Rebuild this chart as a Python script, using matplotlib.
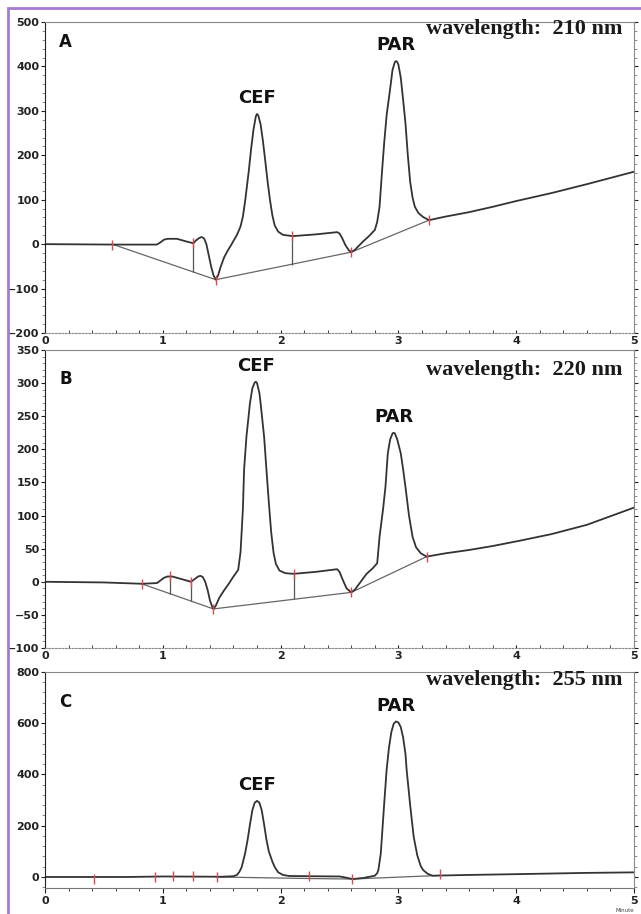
import matplotlib.pyplot as plt
from matplotlib.ticker import MultipleLocator, AutoMinorLocator
from matplotlib.patches import Rectangle

# ---- data (time in min, signal in mAU) ----
peak_names = ['CEF', 'PAR']

# A : 210 nm
A_time = [0, 0.6, 0.95, 0.98, 1.01, 1.04, 1.12, 1.2, 1.26, 1.28, 1.31, 1.33, 1.35, 1.37, 1.39,
          1.41, 1.43, 1.45, 1.47, 1.49, 1.52, 1.55, 1.58, 1.61, 1.63, 1.66, 1.68, 1.70, 1.73,
          1.75, 1.77, 1.79, 1.80, 1.81, 1.83, 1.85, 1.87, 1.89, 1.91, 1.93, 1.95, 1.98, 2.02,
          2.10, 2.30, 2.48, 2.50, 2.52, 2.55, 2.58, 2.60, 2.63, 2.70, 2.75, 2.80, 2.82, 2.84,
          2.86, 2.88, 2.90, 2.93, 2.95, 2.97, 2.98, 2.99, 3.00, 3.02, 3.04, 3.06, 3.08, 3.10,
          3.12, 3.14, 3.17, 3.21, 3.26, 3.4, 3.6, 3.8, 4.0, 4.3, 4.6, 5.0]
A_signal = [0, -1, -1, 4, 10, 12, 12, 6, 2, 8, 14, 16, 13, 0, -25,
            -50, -70, -80, -70, -52, -30, -15, -2, 12, 21, 40, 62, 99, 165,
            215, 258, 288, 293, 290, 270, 232, 187, 140, 99, 65, 42, 28, 21,
            18, 22, 27, 24, 15, -2, -14, -18, -13, 6, 18, 32, 50, 84,
            160, 230, 290, 350, 392, 410, 412, 410, 404, 375, 325, 272, 200, 140,
            105, 84, 70, 61, 54, 62, 72, 84, 97, 115, 135, 163]
A_base_time = [0.57, 1.45, 2.60, 3.26]
A_base_signal = [0, -80, -18, 54]
A_drop_time = [1.26, 2.10]
A_drop_top = [2, 18]
A_drop_bottom = [-62, -47]
A_event_time = [0.57, 1.26, 1.45, 2.10, 2.60, 3.26]
A_event_signal = [-3, 2, -80, 18, -18, 54]
A_peak_time = [1.80, 2.98]
A_peak_height = [293, 412]

# B : 220 nm
B_time = [0, 0.5, 0.82, 0.95, 0.98, 1.01, 1.04, 1.08, 1.16, 1.24, 1.27, 1.30, 1.32, 1.34, 1.36,
          1.38, 1.40, 1.42, 1.43, 1.45, 1.48, 1.52, 1.56, 1.60, 1.64, 1.66, 1.68, 1.69, 1.71,
          1.74, 1.76, 1.78, 1.79, 1.80, 1.82, 1.83, 1.86, 1.88, 1.90, 1.92, 1.94, 1.96, 1.99,
          2.04, 2.11, 2.30, 2.48, 2.50, 2.53, 2.56, 2.60, 2.63, 2.68, 2.73, 2.78, 2.82, 2.84,
          2.87, 2.89, 2.91, 2.93, 2.95, 2.96, 2.97, 2.99, 3.02, 3.04, 3.06, 3.09, 3.12, 3.15,
          3.19, 3.24, 3.4, 3.6, 3.8, 4.03, 4.3, 4.6, 5.0]
B_signal = [0, -1, -3, -2, 2, 6, 8, 8, 4, 0, 4, 8, 9, 7, 0,
            -12, -28, -38, -41, -36, -24, -13, -3, 8, 18, 45, 110, 169, 219,
            270, 292, 301, 302, 300, 285, 270, 219, 169, 120, 75, 44, 27, 17,
            13, 12, 15, 19, 15, 2, -10, -16, -12, 0, 12, 20, 28, 68,
            110, 143, 194, 215, 224, 225, 224, 215, 194, 170, 143, 100, 68, 52,
            43, 38, 43, 48, 54, 62, 72, 86, 112]
B_base_time = [0.82, 1.43, 2.60, 3.24]
B_base_signal = [-3, -41, -16, 38]
B_drop_time = [1.06, 1.24, 2.11]
B_drop_top = [8, 0, 12]
B_drop_bottom = [-18, -29, -26]
B_event_time = [0.82, 1.06, 1.24, 1.43, 2.11, 2.60, 3.24]
B_event_signal = [-4, 8, 0, -41, 12, -16, 38]
B_peak_time = [1.79, 2.96]
B_peak_height = [302, 225]

# C : 255 nm
C_time = [0, 0.7, 1.0, 1.5, 1.60, 1.63, 1.65, 1.67, 1.70, 1.72, 1.74, 1.76, 1.78, 1.80, 1.82,
          1.84, 1.86, 1.88, 1.90, 1.93, 1.95, 1.98, 2.02, 2.07, 2.24, 2.50, 2.55, 2.61, 2.70,
          2.80, 2.82, 2.83, 2.85, 2.86, 2.88, 2.90, 2.92, 2.94, 2.96, 2.98, 3.00, 3.02, 3.04,
          3.06, 3.07, 3.10, 3.13, 3.16, 3.19, 3.21, 3.25, 3.29, 3.6, 4.0, 4.6, 5.0]
C_signal = [0, 0, 2, 1, 3, 8, 20, 39, 95, 145, 205, 260, 290, 297, 290,
            260, 205, 145, 100, 60, 39, 18, 8, 4, 3, 2, -2, -8, -4,
            5, 15, 27, 90, 156, 290, 418, 505, 565, 598, 607, 603, 585, 545,
            480, 418, 280, 156, 85, 42, 27, 12, 5, 8, 11, 16, 18]
C_base_time = [1.46, 2.24, 2.61, 3.35]
C_base_signal = [0, -6, -8, 6]
C_event_time = [0.42, 0.93, 1.09, 1.26, 1.46, 2.24, 2.61, 3.35]
C_event_signal = [-8, 1, 2, 2, 0, 3, -8, 12]
C_peak_time = [1.80, 2.98]
C_peak_height = [297, 607]

plt.rcParams['font.family'] = 'DejaVu Sans'
plt.rcParams['font.weight'] = 'bold'

W, H = 641, 914
fig = plt.figure(figsize=(W / 100, H / 100), dpi=100)
fig.patches.append(Rectangle((8 / W, -0.1), 1.2, 1 - 8 / H + 0.1, transform=fig.transFigure,
                             fill=False, edgecolor='#a57ad6', linewidth=2))


def px_axes(top, bottom, left=45, right=634):
    return fig.add_axes([left / W, 1 - bottom / H, (right - left) / W, (bottom - top) / H])


def draw_panel(ax, t, s, bt, bs, dt, dtop, dbot, et, es, pt, ph, ylim, major, letter,
               wave, wave_y, letter_y, last):
    ax.plot(bt, bs, color='#666666', lw=0.9)
    ax.vlines(dt, dbot, dtop, color='#555555', lw=0.9)
    ax.plot(t, s, color='#333333', lw=1.3)
    ax.plot(et, es, ls='none', marker='|', ms=7, mew=1.0, color='#e0484f')
    for name, x, y in zip(peak_names, pt, ph):
        ax.annotate(name, (x, y), xytext=(0, 5), textcoords='offset points',
                    ha='center', va='bottom', fontsize=13, color='#111111')
    ax.text(0.024, letter_y, letter, transform=ax.transAxes, fontsize=12,
            ha='left', va='top', color='#111111')
    ax.text(0.98, wave_y, 'wavelength:  ' + wave + ' nm', transform=ax.transAxes,
            fontsize=16, family='Liberation Serif', ha='right', va='top', color='#1a1a1a')

    ax.set_xlim(0, 5)
    ax.set_ylim(*ylim)
    ax.xaxis.set_major_locator(MultipleLocator(1))
    ax.xaxis.set_minor_locator(MultipleLocator(0.2))
    ax.yaxis.set_major_locator(MultipleLocator(major))
    ax.yaxis.set_minor_locator(AutoMinorLocator(5))
    ax.tick_params(axis='y', which='both', direction='out', right=True, labelsize=8,
                   pad=1, colors='#222222')
    ax.tick_params(axis='y', which='major', length=3)
    ax.tick_params(axis='y', which='minor', length=2, color='#777777')
    ax.spines['left'].set_color('#222222')
    ax.spines['top'].set_color('#888888')
    ax.spines['right'].set_color('#888888')
    if last:
        ax.tick_params(axis='x', which='both', direction='out', labelsize=8, pad=2,
                       colors='#222222')
        ax.tick_params(axis='x', which='minor', length=2)
        ax.spines['bottom'].set_color('#777777')
        ax.text(0.985, -0.118, 'Minute', transform=ax.transAxes, fontsize=4,
                fontweight='normal', ha='center', va='bottom', color='#444444')
    else:
        ax.tick_params(axis='x', which='both', direction='in', length=2, labelsize=8,
                       pad=2, colors='#222222')
        ax.spines['bottom'].set_linestyle((0, (1.5, 1.5)))
        ax.spines['bottom'].set_color('#888888')


axA = px_axes(22, 333)
draw_panel(axA, A_time, A_signal, A_base_time, A_base_signal, A_drop_time, A_drop_top,
           A_drop_bottom, A_event_time, A_event_signal, A_peak_time, A_peak_height,
           (-200, 500), 100, 'A', '210', 1.01, 0.965, False)

axB = px_axes(350, 648)
draw_panel(axB, B_time, B_signal, B_base_time, B_base_signal, B_drop_time, B_drop_top,
           B_drop_bottom, B_event_time, B_event_signal, B_peak_time, B_peak_height,
           (-100, 350), 50, 'B', '220', 0.965, 0.933, False)

axC = px_axes(672, 888)
draw_panel(axC, C_time, C_signal, C_base_time, C_base_signal, [], [], [],
           C_event_time, C_event_signal, C_peak_time, C_peak_height,
           (-43, 800), 200, 'C', '255', 1.01, 0.903, True)

fig.savefig('out.png', dpi=100)
